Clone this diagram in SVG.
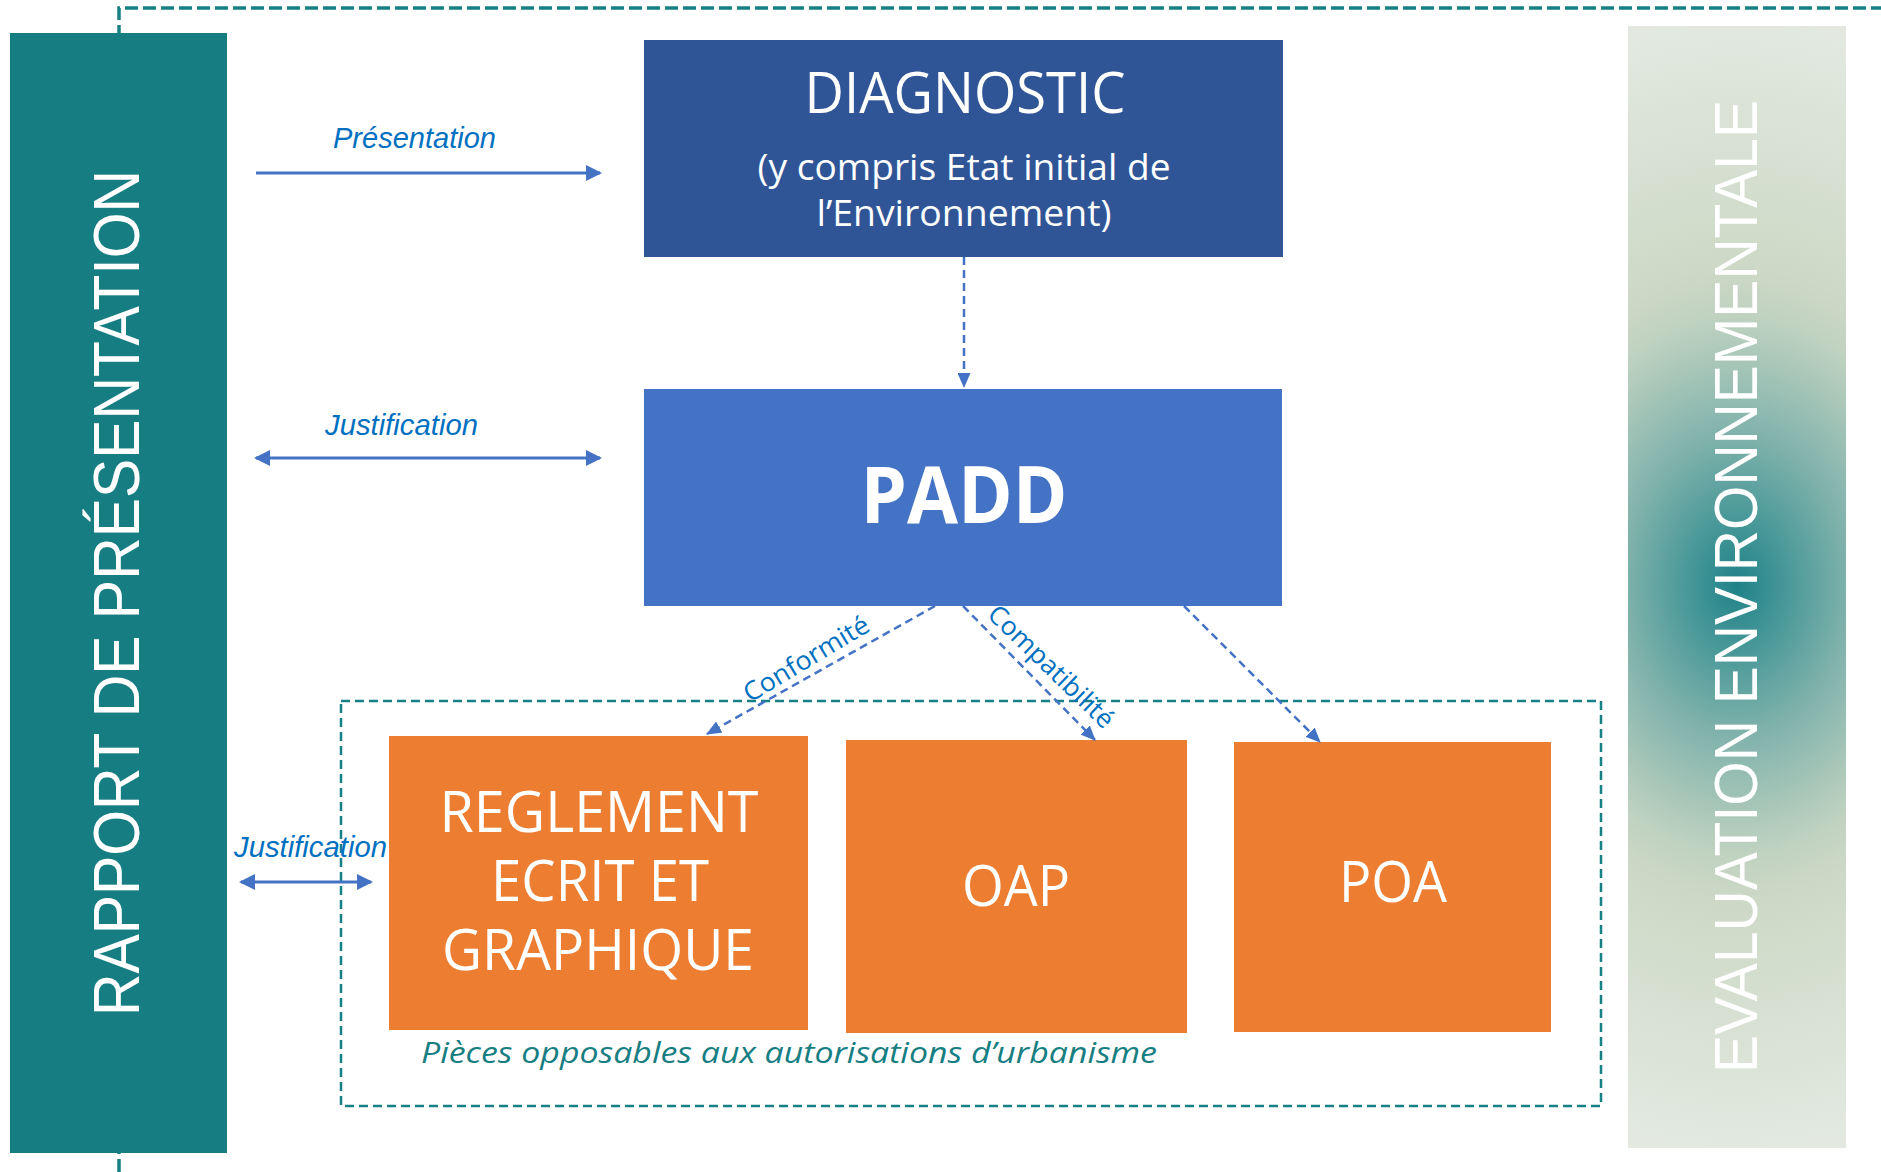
<svg xmlns="http://www.w3.org/2000/svg" width="1881" height="1172" viewBox="0 0 1881 1172">
<style>
.cal{font-family:"Open Sans","Noto Sans","Liberation Sans",sans-serif;fill:#fff}
.lbl{font-family:"Liberation Sans",Arial,sans-serif;font-style:italic;font-size:29px;fill:#0070C0}
.rel{font-family:"Open Sans","Noto Sans",sans-serif;font-size:26px;fill:#0070C0}
.side{font-family:"Liberation Sans",Arial,sans-serif;fill:#fff}
.solid{stroke:#4472C4;stroke-width:3;fill:none}
.dash{stroke:#4472C4;stroke-width:2.5;stroke-dasharray:8 5;fill:none}
.teal{stroke:#178085;fill:none}
</style>
<defs>
<marker id="ah" markerUnits="userSpaceOnUse" markerWidth="16" markerHeight="16" refX="14" refY="8" orient="auto-start-reverse" viewBox="0 0 16 16">
<path d="M0,0 L16,8 L0,16 z" fill="#4472C4"/>
</marker>
<marker id="ahd" markerUnits="userSpaceOnUse" markerWidth="15" markerHeight="13" refX="14" refY="6.5" orient="auto" viewBox="0 0 15 13">
<path d="M0,0 L15,6.5 L0,13 z" fill="#4472C4"/>
</marker>
<radialGradient id="evg" gradientUnits="userSpaceOnUse" cx="1737" cy="585" r="600" gradientTransform="translate(1737 585) scale(0.75 1) translate(-1737 -585)">
<stop offset="0" stop-color="#1F8289"/>
<stop offset="0.12" stop-color="#4C9A9A"/>
<stop offset="0.25" stop-color="#80B2AB"/>
<stop offset="0.36" stop-color="#A3C4B7"/>
<stop offset="0.45" stop-color="#C0D2C0"/>
<stop offset="0.53" stop-color="#CDD9C6"/>
<stop offset="0.95" stop-color="#E3E9E1"/>
</radialGradient>
</defs>

<path class="teal" d="M119,1172 V8 H1881" stroke-width="3.5" stroke-dasharray="13 5"/>

<g id="rapport">
<rect x="10" y="33" width="217" height="1120" fill="#167E83"/>
<text class="side" font-size="65" transform="translate(139 1016) rotate(-90)" textLength="846" lengthAdjust="spacingAndGlyphs">RAPPORT DE PRÉSENTATION</text>
</g>

<g id="evaluation">
<rect x="1628" y="26" width="218" height="1122" fill="url(#evg)"/>
<text class="side" font-size="61" transform="translate(1757 1073) rotate(-90)" textLength="973" lengthAdjust="spacingAndGlyphs">EVALUATION ENVIRONNEMENTALE</text>
</g>

<g id="pieces">
<rect class="teal" x="341" y="701" width="1260" height="405" stroke-width="2.5" stroke-dasharray="9 5"/>
<text x="421" y="1063" font-family="'Open Sans','Noto Sans',sans-serif" font-style="italic" font-size="30" fill="#177E82" textLength="736" lengthAdjust="spacingAndGlyphs">Pièces opposables aux autorisations d’urbanisme</text>
</g>

<g id="diagnostic">
<rect x="644" y="40" width="639" height="217" fill="#2F5597"/>
<text class="cal" x="965" y="113" font-size="57" text-anchor="middle" textLength="321" lengthAdjust="spacingAndGlyphs">DIAGNOSTIC</text>
<text class="cal" x="964" y="180" font-size="36" text-anchor="middle" textLength="413" lengthAdjust="spacingAndGlyphs">(y compris Etat initial de</text>
<text class="cal" x="964" y="226" font-size="36" text-anchor="middle" textLength="295" lengthAdjust="spacingAndGlyphs">l’Environnement)</text>
</g>

<g id="padd">
<rect x="644" y="389" width="638" height="217" fill="#4472C4"/>
<text class="cal" x="964" y="523" font-size="78" font-weight="bold" text-anchor="middle" textLength="207" lengthAdjust="spacingAndGlyphs">PADD</text>
</g>

<g id="reglement">
<rect x="389" y="736" width="419" height="294" fill="#ED7D31"/>
<text class="cal" x="599" y="832" font-size="56" text-anchor="middle" textLength="319" lengthAdjust="spacingAndGlyphs">REGLEMENT</text>
<text class="cal" x="600" y="901" font-size="56" text-anchor="middle" textLength="218" lengthAdjust="spacingAndGlyphs">ECRIT ET</text>
<text class="cal" x="598" y="970" font-size="56" text-anchor="middle" textLength="312" lengthAdjust="spacingAndGlyphs">GRAPHIQUE</text>
</g>

<g id="oap">
<rect x="846" y="740" width="341" height="293" fill="#ED7D31"/>
<text class="cal" x="1016" y="906" font-size="56" text-anchor="middle" textLength="108" lengthAdjust="spacingAndGlyphs">OAP</text>
</g>

<g id="poa">
<rect x="1234" y="742" width="317" height="290" fill="#ED7D31"/>
<text class="cal" x="1393" y="902" font-size="56" text-anchor="middle" textLength="108" lengthAdjust="spacingAndGlyphs">POA</text>
</g>

<g id="connectors">
<line class="solid" x1="256" y1="173" x2="600" y2="173" marker-end="url(#ah)"/>
<text class="lbl" x="333" y="148" font-size="28" textLength="163" lengthAdjust="spacingAndGlyphs">Présentation</text>
<line class="solid" x1="256" y1="458" x2="600" y2="458" marker-start="url(#ah)" marker-end="url(#ah)"/>
<text class="lbl" x="325" y="435" textLength="153" lengthAdjust="spacingAndGlyphs">Justification</text>
<line class="solid" x1="241" y1="882" x2="371" y2="882" marker-start="url(#ah)" marker-end="url(#ah)"/>
<text class="lbl" x="234" y="857" textLength="153" lengthAdjust="spacingAndGlyphs">Justification</text>
<line class="dash" x1="964" y1="257" x2="964" y2="387" marker-end="url(#ahd)"/>
<line class="dash" x1="935" y1="606" x2="707" y2="734" marker-end="url(#ahd)"/>
<line class="dash" x1="963" y1="606" x2="1095" y2="740" marker-end="url(#ahd)"/>
<line class="dash" x1="1184" y1="606" x2="1320" y2="742" marker-end="url(#ahd)"/>
<text class="rel" transform="translate(750 703) rotate(-31)" textLength="142" lengthAdjust="spacingAndGlyphs">Conformité</text>
<text class="rel" transform="translate(986 616) rotate(44)" textLength="164" lengthAdjust="spacingAndGlyphs">Compatibilité</text>
</g>
</svg>
